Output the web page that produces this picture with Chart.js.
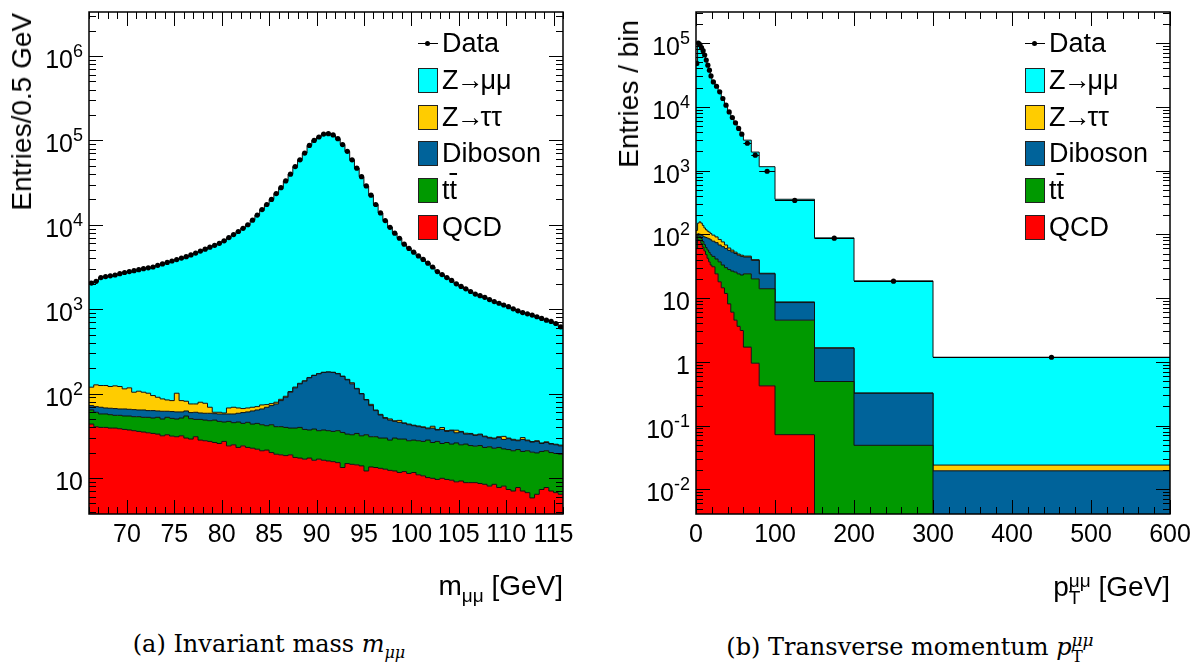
<!DOCTYPE html>
<html>
<head>
<meta charset="utf-8">
<script src="https://cdn.jsdelivr.net/npm/chart.js@4.4.0/dist/chart.umd.min.js"></script>
<style>
  body { margin: 0; background: #fff; }
  #page { position: relative; width: 1203px; height: 671px; overflow: hidden; font-family: "Liberation Sans", Arial, sans-serif; color: #000; }
  canvas { position: absolute; top: 0; }
  .lbl { position: absolute; white-space: nowrap; line-height: 1; }
  .ytitle { writing-mode: vertical-rl; transform: rotate(180deg); font-size: 28px; }
  .xtitle { font-size: 28px; }
  .sub { font-size: 19px; vertical-align: -7px; }
  .ss { display: inline-block; font-size: 19px; line-height: 17px; vertical-align: -8px; }
  .ss span { display: block; }
  .caption { font-family: "DejaVu Serif", serif; font-size: 24px; text-align: center; }
  .csub { font-size: 16px; vertical-align: -6px; }
  .css { display: inline-block; font-size: 17px; line-height: 16px; vertical-align: -7px; text-align: left; }
  .css span { display: block; }
  .leg-box { position: absolute; width: 18px; height: 23px; border: 1px solid #222; }
  .leg-text { position: absolute; font-size: 27px; line-height: 1; white-space: nowrap; }
  .arrow { margin: 0 -3px 0 -2px; }
</style>
</head>
<body>
<div id="page">
  <canvas id="massChart" width="601" height="620" style="left:0"></canvas>
  <canvas id="ptChart" width="602" height="620" style="left:601px"></canvas>

  <div class="lbl ytitle" style="left:8px;top:13px">Entries/0.5 GeV</div>
  <div class="lbl ytitle" style="left:615px;top:20px">Entries / bin</div>
  <div class="lbl xtitle" style="right:640px;top:572px">m<span class="sub">μμ</span> [GeV]</div>
  <div class="lbl xtitle" style="right:33px;top:572px">p<span class="ss"><span>μμ</span><span>T</span></span> [GeV]</div>
  <div class="lbl caption" style="left:0;width:538px;top:632px">(a) Invariant mass <i>m</i><span class="csub"><i>μμ</i></span></div>
  <div class="lbl caption" style="left:610px;width:600px;top:632px">(b) Transverse momentum <i>p</i><span class="css"><span><i>μμ</i></span><span>T</span></span></div>
</div>

<script>
// colours of the stacked samples
const colZmumu = '#00ffff';
const colZtautau = '#ffcc00';
const colDiboson = '#00639a';
const colTtbar = '#009900';
const colQcd = '#ff0000';

// ---- invariant mass, 100 bins of 0.5 GeV from 66 to 116 ----
const massEdges = Array.from({ length: 101 }, (_, i) => 66 + 0.5 * i);
const massXTicks = [70, 75, 80, 85, 90, 95, 100, 105, 110, 115];
const massYTicks = [10, 1e2, 1e3, 1e4, 1e5, 1e6];

const massData = [
  2040, 2140, 2370, 2430, 2480, 2540, 2630, 2720, 2790, 2860,
  2940, 3020, 3090, 3160, 3310, 3440, 3580, 3720, 3870, 4030,
  4190, 4390, 4620, 4880, 5140, 5420, 5710, 6030, 6460, 7050,
  7660, 8320, 9080, 10000, 11350, 13030, 15140, 17380, 19950, 23440,
  27540, 33110, 39800, 48980, 58900, 70800, 87100, 100000, 109600, 118900,
  120200, 116100, 104700, 89100, 74100, 58900, 46800, 37150, 28840, 22400,
  17380, 13800, 11220, 9330, 7940, 6920, 5890, 5250, 4730, 4270,
  3890, 3510, 3160, 2790, 2570, 2370, 2190, 1995, 1860, 1740,
  1620, 1510, 1445, 1380, 1300, 1230, 1175, 1120, 1070, 1010,
  955, 912, 880, 850, 813, 776, 741, 716, 676, 617
];
const massZmumu = [
  1921, 2013, 2245, 2305, 2359, 2417, 2509, 2606, 2673, 2756,
  2833, 2916, 2989, 3065, 3220, 3354, 3496, 3637, 3769, 3947,
  4111, 4315, 4545, 4801, 5063, 5351, 5650, 5970, 6401, 6982,
  7591, 8252, 9014, 9932, 11281, 12960, 15067, 17306, 19874, 23361,
  27454, 33017, 39694, 48861, 58768, 70658, 86945, 99835, 109428, 118721,
  120020, 115921, 104527, 88939, 73953, 58766, 46685, 37050, 28755, 22325,
  17316, 13743, 11168, 9280, 7892, 6872, 5845, 5206, 4688, 4229,
  3850, 3471, 3119, 2752, 2530, 2334, 2153, 1958, 1824, 1706,
  1586, 1478, 1412, 1349, 1270, 1200, 1144, 1089, 1040, 981,
  927, 882, 852, 823, 785, 750, 714, 690, 651, 592
];
const massZtautau = [
  47, 56.8, 55.7, 57, 54.2, 57, 55.5, 48, 51.7, 39.2,
  42.7, 39.8, 38.1, 31.9, 28.2, 24.7, 22.3, 21.3, 40.3, 21.9,
  18.9, 15.8, 15.3, 20, 18.3, 10.4, 2.2, 2.7, 1.6, 10.2,
  11.5, 9.1, 6.9, 6.9, 6.6, 6.1, 7.6, 5.2, 4, 3.6,
  3, 2.5, 2, 2.5, 2, 1.5, 1.5, 1, 1, 1,
  1, 1, 1.5, 1.5, 2, 4, 1.5, 1, 1, 2.5,
  1, 1, 1, 1.5, 0.8, 2.5, 0.6, 0.8, 0.6, 0.8,
  0.6, 0.8, 2, 0.6, 2, 0.8, 0.6, 2.5, 0.6, 0.8,
  0.6, 0.5, 0.6, 0.5, 0.6, 0.5, 0.6, 2.5, 0.5, 0.6,
  0.5, 1.5, 0.5, 0.4, 0.5, 0.4, 0.5, 0.4, 0.4, 0.5
];
const massDiboson = [
  8, 10, 11.5, 10.2, 10.8, 11.2, 10.5, 11.5, 10.9, 11.3,
  10.7, 11.6, 10.5, 11.5, 9.9, 11.8, 9.4, 10.4, 10.7, 9.3,
  8, 9.1, 10.6, 9.5, 9.9, 10.7, 9.3, 10.5, 11.3, 10.5,
  12.1, 12.4, 15.2, 15, 18.7, 19.6, 23, 27.2, 29.3, 34.8,
  42, 50.7, 64.7, 77.8, 90.6, 102.6, 116.6, 125.8, 135.2, 140.8,
  143.2, 142.2, 135.2, 124.8, 112.3, 97.8, 80, 67.5, 51.5, 41.2,
  32, 26, 21.2, 20.4, 17.1, 16.7, 15.4, 15.1, 13.5, 12.9,
  12.6, 10.2, 12.7, 9.9, 12, 9.3, 11.1, 8.3, 10.3, 7.9,
  8.9, 8.1, 8.3, 7.8, 6.3, 6.7, 7.2, 6.5, 7.5, 7.1,
  5.9, 8, 6.6, 6.4, 7.3, 5, 5.3, 5.2, 5.2, 4.9
];
const massTtbar = [
  20.5, 19.6, 17.6, 17.6, 17.2, 16.2, 16.9, 16.6, 17.2, 16.9,
  17.6, 17.3, 18, 17.6, 19.2, 18.3, 19.8, 19.5, 19.1, 19.7,
  24.5, 21.5, 18.6, 21.3, 20.9, 20.6, 22.2, 21.2, 18.9, 22.8,
  20.5, 23, 20.3, 22.6, 21, 22.4, 21.7, 20.2, 22.7, 21.4,
  21.7, 21.3, 20.2, 21.5, 22.5, 20.9, 19.8, 21.8, 19.6, 20.8,
  20.4, 20, 21.1, 21.3, 18.3, 18, 19.4, 17.7, 20.4, 17.3,
  17.5, 16.7, 17, 15.8, 17.6, 17.3, 17, 16.3, 16.5, 16.7,
  16.5, 18, 16.4, 17.5, 15.7, 16.7, 15.8, 17, 15.5, 16.4,
  15.4, 15, 15.6, 14.6, 15.4, 14.1, 15.3, 14.1, 14.4, 14,
  14, 13.6, 14.3, 14.4, 13.4, 13.3, 13.3, 13, 12.8, 12.7
];
const massQcd = [
  43.5, 40.4, 39.7, 39.7, 39, 39, 38.3, 37.6, 37, 36.3,
  35.6, 35, 34.3, 33.7, 33.1, 31.6, 32.5, 31.3, 30.8, 31.6,
  29.7, 28.9, 30.8, 28.1, 27.6, 27.1, 26.3, 25.6, 27.1, 24,
  24.7, 23, 24, 23, 22.5, 21.9, 21, 21.4, 20, 19.1,
  18.8, 18.4, 18.8, 17.5, 17.2, 16.7, 17.2, 16.2, 16.7, 16.2,
  15.9, 15.6, 15.2, 13.3, 14.8, 14.5, 14.3, 13.9, 12.1, 13.5,
  13.3, 13, 12.7, 12.3, 12.1, 11.6, 11.9, 11.3, 11.6, 10.9,
  10.6, 10.1, 9.9, 9.6, 9.9, 9.6, 9.4, 9, 9.2, 8.8,
  8.8, 8.8, 8.6, 8.4, 8, 8.4, 7.7, 8, 7.3, 7,
  7.7, 7, 6.7, 5.8, 6.4, 7.3, 7.7, 7, 6.7, 6.4
];

// ---- transverse momentum, variable bins ----
const ptEdges = [0, 2, 4, 6, 8, 10, 12, 14, 16, 18, 20, 24, 28, 32, 36, 40, 44, 48, 52, 56, 60, 70, 80, 100, 150, 200, 300, 600];
const ptXTicks = [0, 100, 200, 300, 400, 500, 600];
const ptYTicks = [0.01, 0.1, 1, 10, 1e2, 1e3, 1e4, 1e5];

const ptData = [48000, 100000, 95000, 85000, 76000, 65000, 54000, 45000, 37500, 30500, 24600, 21000, 17200, 13500, 10600, 8300, 6800, 5600, 4580, 3720, 2680, 1740, 975, 340, 87, 18.4, 1.18];
const ptZmumu = [47885, 99850, 92843, 85350, 75562, 64674, 53882, 45088, 37592, 30197, 24503, 20409, 17117, 13424, 10532, 8239, 6743, 5548, 4531, 3753, 2954, 1910, 1125, 346, 86.3, 18.3, 1.156];
const ptZtautau = [20, 48, 57, 53, 44, 35, 29, 25, 23, 21, 19, 17, 15, 12, 8, 5, 3.5, 2.5, 2, 2, 1.5, 1, 0.5, 0.2, 0.03, 0.005, 0.0045];
const ptDiboson = [20, 7, 7, 11, 17, 22, 27, 30, 33, 34, 33, 33, 31, 31, 30, 28, 26.5, 24.5, 23, 22, 20, 19, 10, 4, 1.14, 0.271, 0.0175];
const ptTtbar = [15, 13, 13, 14, 14, 14, 14, 15, 15, 15, 14, 17, 19, 18.5, 18.2, 19.9, 20.5, 21, 20.4, 19.9, 22.3, 19.05, 13.58, 4.43, 0.49, 0.048, 0.001];
const ptQcd = [60, 82, 80, 72, 63, 55, 48, 42, 37, 33, 31, 24, 18, 14.5, 11.8, 8.1, 6.0, 4.5, 3.6, 3.1, 1.7, 0.95, 0.42, 0.072, 0.001, 0.001, 0.001];

// histogram as points on the lower bin edges, plus the last upper edge
function histPoints(edges, values) {
  const pts = values.map((v, i) => ({ x: edges[i], y: v }));
  pts.push({ x: edges[edges.length - 1], y: values[values.length - 1] });
  return pts;
}
function centerPoints(edges, values) {
  return values.map((v, i) => ({ x: (edges[i] + edges[i + 1]) / 2, y: v }));
}

function stackSet(label, edges, values, color, fill) {
  return {
    label: label,
    data: histPoints(edges, values),
    stack: 'mc',
    backgroundColor: color,
    borderColor: '#111',
    borderWidth: 1,
    pointRadius: 0,
    stepped: true,
    fill: fill,
    clip: 0
  };
}

// frame, inward ROOT style ticks, tick labels and the data bin-width bars
const axisFrame = {
  id: 'axisFrame',
  afterDatasetsDraw(chart, args, o) {
    const { ctx, chartArea: a } = chart;
    const x = chart.scales.x, y = chart.scales.y;
    ctx.save();
    ctx.strokeStyle = '#000';
    ctx.lineWidth = 1;

    ctx.beginPath();
    o.data.forEach((v, i) => {
      const py = Math.round(y.getPixelForValue(v)) + 0.5;
      ctx.moveTo(x.getPixelForValue(o.edges[i]), py);
      ctx.lineTo(x.getPixelForValue(o.edges[i + 1]), py);
    });
    ctx.stroke();

    ctx.beginPath();
    const tickX = (v, len) => {
      const px = Math.round(x.getPixelForValue(v)) + 0.5;
      ctx.moveTo(px, a.bottom); ctx.lineTo(px, a.bottom - len);
      ctx.moveTo(px, a.top); ctx.lineTo(px, a.top + len);
    };
    const tickY = (v, len) => {
      const py = Math.round(y.getPixelForValue(v)) + 0.5;
      ctx.moveTo(a.left, py); ctx.lineTo(a.left + len, py);
      ctx.moveTo(a.right, py); ctx.lineTo(a.right - len, py);
    };
    for (let v = o.xMin; v <= o.xMax + 1e-9; v += o.xMinorStep) tickX(v, 7);
    o.xTicks.forEach(v => tickX(v, 14));
    const d0 = Math.floor(Math.log10(y.min)), d1 = Math.ceil(Math.log10(y.max));
    for (let d = d0; d <= d1; d++) {
      for (let k = 1; k < 10; k++) {
        const v = k * Math.pow(10, d);
        if (v >= y.min && v <= y.max) tickY(v, k === 1 ? 14 : 7);
      }
    }
    ctx.stroke();

    ctx.lineWidth = 1.5;
    ctx.strokeRect(a.left, a.top, a.right - a.left, a.bottom - a.top);

    ctx.fillStyle = '#000';
    const base = '25px "Liberation Sans", Arial, sans-serif';
    const small = '18px "Liberation Sans", Arial, sans-serif';
    ctx.font = base;
    ctx.textAlign = 'center';
    ctx.textBaseline = 'alphabetic';
    o.xTicks.forEach(v => ctx.fillText(String(v), x.getPixelForValue(v), a.bottom + 28));

    const right = a.left - 6;
    o.yTicks.forEach(v => {
      const py = y.getPixelForValue(v) + 12;
      const e = Math.round(Math.log10(v));
      if (e === 0 || e === 1) {
        ctx.font = base; ctx.textAlign = 'right';
        ctx.fillText(String(v), right, py);
      } else {
        const exp = e < 0 ? '-' + (-e) : String(e);
        ctx.font = small;
        const ew = ctx.measureText(exp).width;
        ctx.textAlign = 'left';
        ctx.fillText(exp, right - ew, py - 11);
        ctx.font = base; ctx.textAlign = 'right';
        ctx.fillText('10', right - ew, py);
      }
    });
    ctx.restore();
  }
};

function makeChart(id, edges, data, qcd, ttbar, diboson, ztautau, zmumu, xr, yr, pad, ticks) {
  return new Chart(document.getElementById(id), {
    type: 'line',
    data: {
      datasets: [
        stackSet('QCD', edges, qcd, colQcd, 'start'),
        stackSet('ttbar', edges, ttbar, colTtbar, '-1'),
        stackSet('Diboson', edges, diboson, colDiboson, '-1'),
        stackSet('Ztautau', edges, ztautau, colZtautau, '-1'),
        stackSet('Zmumu', edges, zmumu, colZmumu, '-1'),
        {
          type: 'scatter',
          label: 'Data',
          data: centerPoints(edges, data),
          stack: 'data',
          order: -1,
          showLine: false,
          pointRadius: 2.6,
          pointBackgroundColor: '#000',
          pointBorderWidth: 0,
          clip: 0
        }
      ]
    },
    options: {
      responsive: false,
      animation: false,
      events: [],
      layout: { padding: pad },
      scales: {
        x: { type: 'linear', min: xr[0], max: xr[1], display: false },
        y: { type: 'logarithmic', min: yr[0], max: yr[1], stacked: true, display: false }
      },
      plugins: {
        legend: { display: false },
        tooltip: { enabled: false },
        axisFrame: Object.assign({ edges: edges, data: data }, ticks)
      }
    },
    plugins: [axisFrame]
  });
}

makeChart('massChart', massEdges, massData, massQcd, massTtbar, massDiboson, massZtautau, massZmumu,
  [66, 116], [3.74, 3.32e6], { left: 89, top: 12, right: 38, bottom: 106 },
  { xTicks: massXTicks, yTicks: massYTicks, xMin: 66, xMax: 116, xMinorStep: 1 });

makeChart('ptChart', ptEdges, ptData, ptQcd, ptTtbar, ptDiboson, ptZtautau, ptZmumu,
  [0, 600], [0.0041, 3.07e5], { left: 95, top: 12, right: 33, bottom: 106 },
  { xTicks: ptXTicks, yTicks: ptYTicks, xMin: 0, xMax: 600, xMinorStep: 20 });

// legends drawn inside each frame, ROOT style
const legendEntries = [
  { label: 'Z<span class="arrow">→</span>μμ', color: colZmumu },
  { label: 'Z<span class="arrow">→</span>ττ', color: colZtautau },
  { label: 'Diboson', color: colDiboson },
  { label: 't<span style="text-decoration:overline">t</span>', color: colTtbar },
  { label: 'QCD', color: colQcd }
];
const legendRows = [43, 80, 117, 153, 190, 227];

function buildLegend(boxLeft) {
  const page = document.getElementById('page');
  const add = (html, style, cls) => {
    const el = document.createElement('div');
    if (cls) el.className = cls;
    el.style.cssText = style;
    el.innerHTML = html;
    page.appendChild(el);
  };
  add('', `position:absolute;left:${boxLeft}px;top:${legendRows[0]}px;width:20px;height:1px;background:#000`);
  add('', `position:absolute;left:${boxLeft + 7}px;top:${legendRows[0] - 2}px;width:5px;height:5px;border-radius:50%;background:#000`);
  add('Data', `left:${boxLeft + 24}px;top:${legendRows[0] - 13}px`, 'leg-text');
  legendEntries.forEach((e, i) => {
    const c = legendRows[i + 1];
    add('', `left:${boxLeft}px;top:${c - 12}px;background:${e.color}`, 'leg-box');
    add(e.label, `left:${boxLeft + 24}px;top:${c - 13}px`, 'leg-text');
  });
}
buildLegend(418);
buildLegend(1025);
</script>
</body>
</html>
